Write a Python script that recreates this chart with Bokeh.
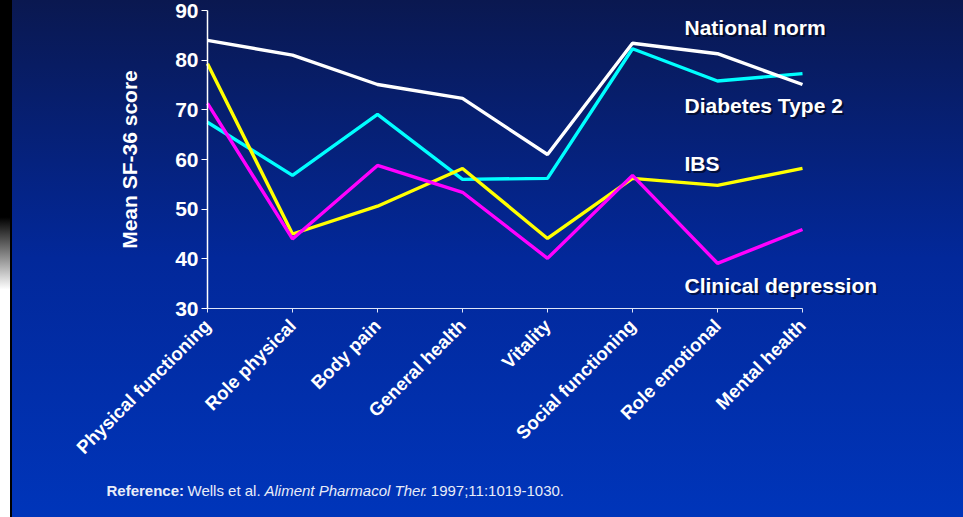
from bokeh.plotting import figure
from bokeh.models import FixedTicker, Range1d, Label, InlineStyleSheet
from bokeh.embed import file_html
from bokeh.resources import INLINE

# SF-36 domains and mean scores per group
categories = ["Physical functioning", "Role physical", "Body pain", "General health",
              "Vitality", "Social functioning", "Role emotional", "Mental health"]
national_norm = [84.0, 81.0, 75.1, 72.3, 61.0, 83.4, 81.3, 75.1]
diabetes_type2 = [67.5, 56.8, 69.1, 56.0, 56.2, 82.3, 75.8, 77.3]
ibs = [79.3, 45.0, 50.6, 58.2, 44.1, 56.2, 54.8, 58.2]
clinical_depression = [71.3, 44.0, 58.8, 53.4, 40.1, 56.8, 39.1, 45.9]
y_ticks = [30, 40, 50, 60, 70, 80, 90]

W, H = 963, 517
# pixel geometry of the chart area: x of the first domain, spacing, y of 90 and 30
X0, STEP = 207, 85.0
Y90, Y30 = 10, 308
y_lo, y_hi = 30, 90
PX_PER_UNIT = (Y30 - Y90) / (y_hi - y_lo)

xs = list(range(len(categories)))


def px_x(px):
    return (px - X0) / STEP


def px_y(py):
    return y_hi - (py - Y90) / PX_PER_UNIT


# the frame spans the whole canvas; axes are pinned inside it
p = figure(width=W, height=H, output_backend="svg", toolbar_location=None,
           x_range=Range1d(px_x(0), px_x(W)), y_range=Range1d(px_y(H), px_y(0)),
           min_border=0)
p.background_fill_alpha = 0
p.border_fill_alpha = 0
p.outline_line_color = None
p.grid.visible = False
p.stylesheets = [InlineStyleSheet(css=""":host {
  background:
    linear-gradient(#000, #000) 10px 0 / 2px 100% no-repeat,
    linear-gradient(to bottom, #000 0%, #000 42%, #fff 56%, #fff 100%) 0 0 / 10px 100% no-repeat,
    linear-gradient(to bottom, #0a1850 0%, #02289a 50%, #0035ba 100%);
}""")]

FONT = "Liberation Sans"

# x axis
xa = p.xaxis[0]
xa.fixed_location = y_lo
xa.ticker = FixedTicker(ticks=xs)
xa.major_label_overrides = {i: c for i, c in enumerate(categories)}
xa.bounds = (0, len(categories) - 1)
xa.major_label_orientation = 0.7854
xa.major_label_text_font = FONT
xa.major_label_text_font_style = "bold"
xa.major_label_text_font_size = "18.5px"
xa.major_label_text_color = "white"
xa.major_label_standoff = 10
xa.axis_line_color = "#dfe5f7"
xa.major_tick_line_color = "#dfe5f7"
xa.major_tick_in = 0
xa.major_tick_out = 4
xa.minor_tick_line_color = None

# y axis
ya = p.yaxis[0]
ya.fixed_location = 0
ya.ticker = FixedTicker(ticks=y_ticks)
ya.bounds = (y_lo, y_hi)
ya.axis_label = "Mean SF-36 score"
ya.axis_label_text_font = FONT
ya.axis_label_text_font_style = "bold"
ya.axis_label_text_font_size = "21px"
ya.axis_label_text_color = "white"
ya.axis_label_standoff = 31
ya.major_label_text_font = FONT
ya.major_label_text_font_style = "bold"
ya.major_label_text_font_size = "21px"
ya.major_label_text_color = "white"
ya.major_label_standoff = 3
ya.axis_line_color = "white"
ya.axis_line_width = 1.5
ya.major_tick_line_color = "white"
ya.major_tick_in = 0
ya.major_tick_out = 6
ya.minor_tick_line_color = None

# series lines
LW = 3.4
p.line(xs, diabetes_type2, line_color="#00ffff", line_width=LW)
p.line(xs, national_norm, line_color="#ffffff", line_width=LW)
p.line(xs, ibs, line_color="#ffff00", line_width=LW)
p.line(xs, clinical_depression, line_color="#ff00ff", line_width=LW)


def shadow_label(text, px, py, size, style="bold"):
    p.add_layout(Label(x=px_x(px), y=px_y(py), text=text, x_offset=2, y_offset=-2,
                       text_font=FONT, text_font_style=style, text_font_size=size,
                       text_color="black", text_alpha=0.55, text_baseline="middle"))
    p.add_layout(Label(x=px_x(px), y=px_y(py), text=text,
                       text_font=FONT, text_font_style=style, text_font_size=size,
                       text_color="white", text_baseline="middle"))


# series names beside the lines
shadow_label("National norm", 684, 27, "21px")
shadow_label("Diabetes Type 2", 684, 105, "21px")
shadow_label("IBS", 684, 163, "21px")
shadow_label("Clinical depression", 684, 285, "21px")

# citation line
ref_color = "#e8ecf8"
for text, px, style in [("Reference:", 106, "bold"),
                        ("Wells et al.", 187, "normal"),
                        ("Aliment Pharmacol Ther", 264, "italic"),
                        (". 1997;11:1019-1030.", 422, "normal")]:
    p.add_layout(Label(x=px_x(px), y=px_y(490), text=text, text_font=FONT,
                       text_font_style=style, text_font_size="15px",
                       text_color=ref_color, text_baseline="middle"))

open("out.html", "w").write(file_html(p, INLINE))
